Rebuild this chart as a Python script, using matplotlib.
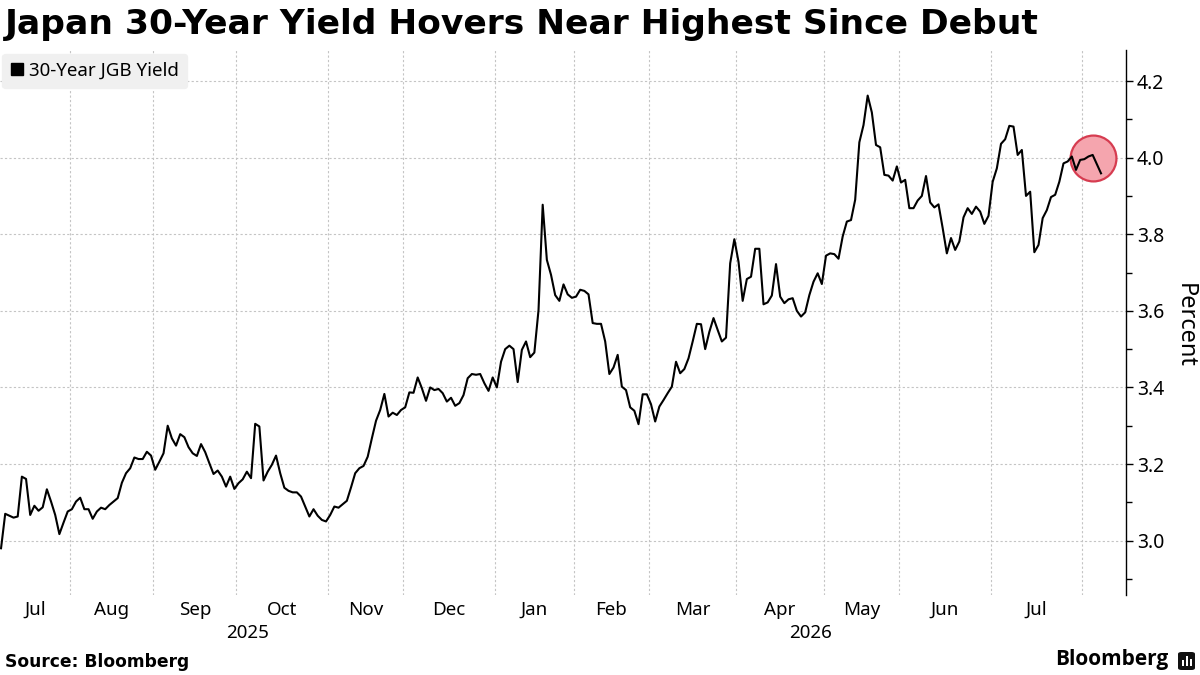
import numpy as np
import matplotlib
matplotlib.use("Agg")
import matplotlib.pyplot as plt
from matplotlib.lines import Line2D
from matplotlib.patches import FancyBboxPatch, Rectangle
from matplotlib.ticker import MultipleLocator, FormatStrFormatter

# ---- data: 30-year JGB yield, one value per Tokyo trading day ----
first_day = '2025-07-08'
jp_holidays = ['2025-07-21', '2025-08-11', '2025-09-15', '2025-09-23', '2025-10-13',
               '2025-11-03', '2025-11-24', '2025-12-31', '2026-01-01', '2026-01-02',
               '2026-01-12', '2026-02-11', '2026-02-23', '2026-03-20', '2026-04-29',
               '2026-05-04', '2026-05-05', '2026-05-06', '2026-07-20']

jul_2025 = [2.98, 3.07, 3.065, 3.06, 3.063, 3.167, 3.161, 3.067, 3.091, 3.078, 3.087,
            3.134, 3.102, 3.067, 3.017, 3.047, 3.076]
aug_2025 = [3.082, 3.102, 3.112, 3.082, 3.082, 3.057, 3.076, 3.086, 3.082, 3.093, 3.102,
            3.111, 3.151, 3.176, 3.189, 3.217, 3.213, 3.213, 3.232, 3.222]
sep_2025 = [3.185, 3.206, 3.228, 3.300, 3.267, 3.248, 3.278, 3.270, 3.244, 3.228, 3.221,
            3.252, 3.231, 3.202, 3.174, 3.183, 3.167, 3.141, 3.167, 3.135]
oct_2025 = [3.150, 3.160, 3.180, 3.163, 3.305, 3.298, 3.157, 3.180, 3.198, 3.222, 3.176,
            3.138, 3.130, 3.126, 3.126, 3.115, 3.089, 3.063, 3.082, 3.065, 3.054, 3.050]
nov_2025 = [3.067, 3.089, 3.086, 3.095, 3.104, 3.139, 3.176, 3.189, 3.195, 3.219, 3.267,
            3.313, 3.341, 3.383, 3.324, 3.334, 3.328, 3.341]
dec_2025 = [3.348, 3.387, 3.386, 3.426, 3.398, 3.365, 3.400, 3.393, 3.396, 3.385, 3.363,
            3.373, 3.352, 3.359, 3.380, 3.424, 3.435, 3.433, 3.435, 3.411, 3.391, 3.426]
jan_2026 = [3.400, 3.467, 3.500, 3.509, 3.500, 3.414, 3.498, 3.520, 3.479, 3.491, 3.602,
            3.877, 3.733, 3.694, 3.641, 3.626, 3.669, 3.643, 3.634]
feb_2026 = [3.637, 3.655, 3.652, 3.643, 3.568, 3.566, 3.566, 3.520, 3.435, 3.452, 3.485,
            3.402, 3.393, 3.348, 3.339, 3.304, 3.382, 3.382]
mar_2026 = [3.356, 3.311, 3.350, 3.367, 3.385, 3.402, 3.467, 3.437, 3.448, 3.476, 3.520,
            3.566, 3.565, 3.500, 3.545, 3.581, 3.550, 3.520, 3.530, 3.724, 3.787]
apr_2026 = [3.728, 3.626, 3.683, 3.689, 3.762, 3.762, 3.617, 3.622, 3.640, 3.722, 3.637,
            3.620, 3.630, 3.633, 3.600, 3.585, 3.596, 3.641, 3.676, 3.698, 3.670]
may_2026 = [3.744, 3.750, 3.748, 3.736, 3.794, 3.833, 3.837, 3.890, 4.040, 4.085, 4.162,
            4.118, 4.033, 4.027, 3.955, 3.953, 3.940, 3.977]
jun_2026 = [3.935, 3.942, 3.868, 3.868, 3.888, 3.900, 3.952, 3.883, 3.870, 3.878, 3.816,
            3.750, 3.790, 3.759, 3.781, 3.844, 3.868, 3.853, 3.872, 3.859, 3.827, 3.848]
jul_2026 = [3.937, 3.972, 4.036, 4.048, 4.083, 4.081, 4.007, 4.020, 3.900, 3.911, 3.753,
            3.772, 3.842, 3.863, 3.897, 3.903, 3.937, 3.985, 3.990, 4.003, 3.968, 3.994]
aug_2026 = [3.996, 4.003, 4.007, 3.983, 3.959]

title = 'Japan 30-Year Yield Hovers Near Highest Since Debut'
series_label = '30-Year JGB Yield'
y_label = 'Percent'
source = 'Source: Bloomberg'

yld = np.array(jul_2025 + aug_2025 + sep_2025 + oct_2025 + nov_2025 + dec_2025 +
               jan_2026 + feb_2026 + mar_2026 + apr_2026 + may_2026 + jun_2026 +
               jul_2026 + aug_2026)
dates = np.busday_offset(first_day, np.arange(len(yld)), roll='forward', holidays=jp_holidays)
# x axis is in trading days (no gaps for weekends / holidays)
x = np.busday_count(first_day, dates, holidays=jp_holidays)

plt.rcParams['font.family'] = ['Noto Sans', 'DejaVu Sans']

fig = plt.figure(figsize=(12, 6.75), dpi=100)
ax = fig.add_axes([0, 80 / 675, 1126 / 1200, 545 / 675])

xmin, xmax = -0.25, x[-1] + 6
ax.set_xlim(xmin, xmax)
ax.set_ylim(2.858, 4.281)

# highlight circle round the latest readings
ax.scatter(x[-5:].mean(), np.round(yld[-5:].mean(), 1), s=1090, facecolor='#f5a5ae',
           edgecolor='#d63c50', linewidth=1.6, zorder=2)
ax.plot(x, yld, color='black', linewidth=1.5, zorder=3)

# month boundaries -> dotted gridlines, labels centred on the visible part of each month
months = np.arange('2025-07', '2026-10', dtype='datetime64[M]')
bounds = np.busday_count(first_day, months.astype('datetime64[D]'), holidays=jp_holidays) - 0.5
inside = bounds[(bounds > xmin) & (bounds < xmax)]
ax.set_xticks(inside)
ax.set_xticklabels([])
centers, names = [], []
for k in range(len(months) - 1):
    lo, hi = max(bounds[k], xmin), min(bounds[k + 1], xmax)
    if hi - lo > 12:
        centers.append((lo + hi) / 2)
        names.append(months[k].astype(object).strftime('%b'))
ax.set_xticks(centers, minor=True)
ax.set_xticklabels(names, minor=True)
ax.tick_params(axis='x', which='both', length=0, pad=4, labelsize=13.5, colors='black')

# year labels under the months
for yr in ['2025', '2026']:
    start = max(np.busday_count(first_day, np.datetime64(yr + '-01-01'), holidays=jp_holidays) - 0.5, xmin)
    end = min(np.busday_count(first_day, np.datetime64(str(int(yr) + 1) + '-01-01'), holidays=jp_holidays) - 0.5, xmax)
    ax.text((start + end) / 2, -0.07, yr, transform=ax.get_xaxis_transform(),
            ha='center', va='center', fontsize=13.5)

ax.yaxis.tick_right()
ax.yaxis.set_major_locator(MultipleLocator(0.2))
ax.yaxis.set_minor_locator(MultipleLocator(0.1))
ax.yaxis.set_major_formatter(FormatStrFormatter('%.1f'))
ax.tick_params(axis='y', which='major', length=5, width=1, pad=3, labelsize=14)
ax.tick_params(axis='y', which='minor', length=4, width=1)

ax.grid(True, which='major', color='#c4c4c4', linestyle=(0, (2, 2)), linewidth=0.8)
ax.set_axisbelow(True)
for side in ['top', 'left', 'bottom']:
    ax.spines[side].set_visible(False)
ax.spines['right'].set_linewidth(1)

ax.legend(handles=[Line2D([], [], marker='s', linestyle='none', color='black', markersize=8.5)],
          labels=[series_label], loc='upper left', bbox_to_anchor=(0, 0.997),
          fontsize=13.5, frameon=True, facecolor='#f0f0f0', edgecolor='#f0f0f0',
          framealpha=1, handlelength=0.7, handletextpad=0.3, borderpad=0.45,
          borderaxespad=0.1)

fig.text(1185 / 1200, 1 - 325 / 675, y_label, rotation=270, ha='center', va='center', fontsize=17)

fig.text(5 / 1200, 1 - 8 / 675, title, family='DejaVu Sans', fontweight='bold',
         fontsize=24.8, va='top', ha='left')
fig.text(5 / 1200, 1 - 662 / 675, source, family='DejaVu Sans', fontweight='bold',
         fontsize=12.3, va='center', ha='left')

# Bloomberg wordmark + icon
fig.text(1168 / 1200, 1 - 660 / 675, 'Bloomberg', ha='right', va='center',
         family=['Open Sans', 'DejaVu Sans'], fontsize=15, fontweight='bold')
fig.patches.append(FancyBboxPatch((1178 / 1200, 1 - 670 / 675), 17 / 1200, 18 / 675,
                                  boxstyle='round,pad=0,rounding_size=0.003',
                                  transform=fig.transFigure, facecolor='#111111',
                                  edgecolor='none'))
for bx, bh in [(1182, 6), (1186, 10), (1190, 7)]:
    fig.patches.append(Rectangle((bx / 1200, 1 - 666 / 675), 2 / 1200, bh / 675,
                                 transform=fig.transFigure, facecolor='white', edgecolor='none'))

fig.savefig('out.png', dpi=100)
